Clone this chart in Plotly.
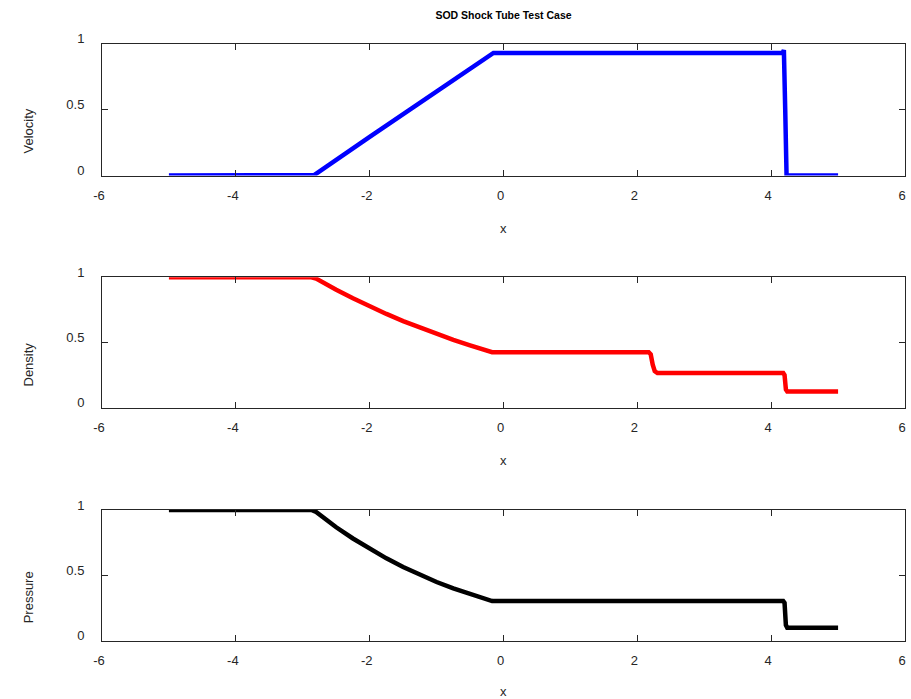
import plotly.graph_objects as go

# ---- data ----
vel_x = [-5.0, -2.87, -2.83, -2.0, -1.0, -0.19, -0.15, 4.17, 4.19, 4.21, 4.23, 5.0]
vel_y = [0.0, 0.0, 0.003, 0.292, 0.640, 0.922, 0.928, 0.928, 0.95, 0.50, 0.0, 0.0]

den_x = [-5.0, -2.87, -2.80, -2.75, -2.5, -2.25, -2.0, -1.75, -1.5, -1.25, -1.0, -0.75, -0.5, -0.25, -0.17,
         2.17, 2.20, 2.23, 2.26, 2.30, 4.18, 4.20, 4.22, 4.24, 5.0]
den_y = [1.0, 1.0, 0.99, 0.974, 0.904, 0.839, 0.777, 0.719, 0.664, 0.613, 0.565, 0.520, 0.478, 0.439, 0.426,
         0.426, 0.41, 0.33, 0.28, 0.266, 0.266, 0.25, 0.14, 0.125, 0.125]

pre_x = [-5.0, -2.87, -2.80, -2.75, -2.5, -2.25, -2.0, -1.75, -1.5, -1.25, -1.0, -0.75, -0.5, -0.25, -0.17,
         4.18, 4.20, 4.22, 4.24, 5.0]
pre_y = [1.0, 1.0, 0.985, 0.964, 0.868, 0.782, 0.702, 0.630, 0.564, 0.504, 0.449, 0.400, 0.356, 0.315, 0.303,
         0.303, 0.29, 0.12, 0.10, 0.10]

x_ticks = [-6, -4, -2, 0, 2, 4, 6]
y_ticks = [0, 0.5, 1]
y_tick_text = ["0", "0.5", "1"]
panels = [
    ("Velocity", vel_x, vel_y, "#0000FF"),
    ("Density", den_x, den_y, "#FF0000"),
    ("Pressure", pre_x, pre_y, "#000000"),
]
title_text = "SOD Shock Tube Test Case"

# ---- layout ----
W, H = 911, 699
ml, mr, mt, mb = 102, 6, 43, 58
ph = H - mt - mb
boxes = [(43.5, 175.5), (277.3, 407.7), (510.0, 640.7)]
FONT = "Liberation Sans, Arial, sans-serif"
AX = "#262626"

fig = go.Figure()
layout = dict(
    width=W, height=H,
    margin=dict(l=ml, r=mr, t=mt, b=mb),
    paper_bgcolor="white", plot_bgcolor="white",
    showlegend=False,
    font=dict(family=FONT, size=13, color=AX),
    title=dict(text="<b>" + title_text + "</b>", x=0.5, xref="paper",
               y=1 - 15 / H, yref="container", xanchor="center", yanchor="middle",
               font=dict(family=FONT, size=10.5, color="black")),
)
annotations = []
for i, (name, xs, ys, col) in enumerate(panels):
    k = "" if i == 0 else str(i + 1)
    top, bot = boxes[i]
    d0 = (H - mb - bot) / ph
    d1 = (H - mb - top) / ph
    fig.add_trace(go.Scatter(x=xs, y=ys, mode="lines", cliponaxis=False,
                             line=dict(color=col, width=4.5),
                             xaxis="x" + k, yaxis="y" + k))
    layout["xaxis" + k] = dict(
        domain=[0, 1], anchor="y" + k, range=[-6, 6], tickvals=x_ticks,
        ticktext=[str(v) for v in x_ticks],
        showgrid=False, zeroline=False, showline=True, linecolor=AX, linewidth=1,
        mirror="ticks", ticks="inside", ticklen=6, tickcolor=AX,
        ticklabelstandoff=8, ticklabelshift=-3,
        tickfont=dict(family=FONT, size=13, color=AX),
    )
    layout["yaxis" + k] = dict(
        domain=[d0, d1], anchor="x" + k, range=[0, 1], tickvals=y_ticks,
        ticktext=y_tick_text,
        showgrid=False, zeroline=False, showline=True, linecolor=AX, linewidth=1,
        mirror="ticks", ticks="inside", ticklen=6, tickcolor=AX,
        ticklabelstandoff=14, ticklabelshift=-5,
        tickfont=dict(family=FONT, size=13, color=AX),
    )
    xt_center = min(bot + 53, H - 8)
    annotations.append(dict(text="x", xref="paper", yref="paper", x=0.5,
                            y=(H - mb - xt_center) / ph, showarrow=False,
                            xanchor="center", yanchor="middle",
                            font=dict(family=FONT, size=13, color=AX)))
    annotations.append(dict(text=name, xref="paper", yref="paper",
                            x=(28 - ml) / (W - ml - mr),
                            y=(H - mb - ((top + bot) / 2 + 22)) / ph,
                            showarrow=False, textangle=-90,
                            xanchor="center", yanchor="middle",
                            font=dict(family=FONT, size=13, color=AX)))
layout["annotations"] = annotations
fig.update_layout(**layout)
fig.write_html("out.html")
